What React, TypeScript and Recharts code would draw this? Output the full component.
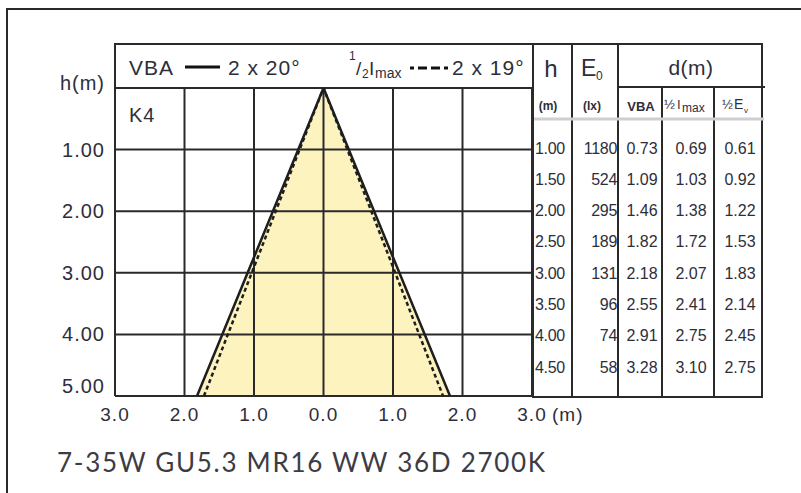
import React from "react";
import { ComposedChart, Line, Area, XAxis, YAxis, ReferenceLine } from "recharts";

// cone outline (half widths at h = 5 m)
const coneH = [5, 0, 5];
const vbaX = [-1.82, 0, 1.82];
const imaxX = [-1.72, 0, 1.72];

const xTicks = [-3, -2, -1, 0, 1, 2, 3];
const xLabels = ["3.0", "2.0", "1.0", "0.0", "1.0", "2.0", "3.0"];
const hTicks = [0, 1, 2, 3, 4, 5];
const hLabels = ["h(m)", "1.00", "2.00", "3.00", "4.00", "5.00"];

// table on the right
const tableH = ["1.00", "1.50", "2.00", "2.50", "3.00", "3.50", "4.00", "4.50"];
const tableE0 = ["1180", "524", "295", "189", "131", "96", "74", "58"];
const tableVBA = ["0.73", "1.09", "1.46", "1.82", "2.18", "2.55", "2.91", "3.28"];
const tableImax = ["0.69", "1.03", "1.38", "1.72", "2.07", "2.41", "2.75", "3.10"];
const tableEv = ["0.61", "0.92", "1.22", "1.53", "1.83", "2.14", "2.45", "2.75"];

const vbaData = vbaX.map((x, i) => ({ x, h: coneH[i] }));
const imaxData = imaxX.map((x, i) => ({ x, h: coneH[i] }));
const fillData = vbaX.map((x, i) => ({ x, band: [coneH[i], 5] }));

const FONT = "'Liberation Sans', Arial, sans-serif";
const INK = "#2e2e3a";
const LINE = "#2a2a2a";

const XTick = (props: any) => {
  const { x, y, index } = props;
  const last = index === xTicks.length - 1;
  return (
    <g>
      <text x={x} y={y + 10} textAnchor="middle" dominantBaseline="central" fontSize={19} letterSpacing={1} fill={INK} fontFamily={FONT}>
        {xLabels[index]}
      </text>
      {last && (
        <text x={x + 20} y={y + 10} textAnchor="start" dominantBaseline="central" fontSize={19} letterSpacing={1} fill={INK} fontFamily={FONT}>
          (m)
        </text>
      )}
    </g>
  );
};

const YTick = (props: any) => {
  const { x, y, index } = props;
  const shift = index === 0 ? -5 : index === hTicks.length - 1 ? -10 : 0;
  return (
    <text x={x - 2} y={y + shift} textAnchor="end" dominantBaseline="central" fontSize={20} letterSpacing={1} fill={INK} fontFamily={FONT}>
      {hLabels[index]}
    </text>
  );
};

const rowY = (i: number) => 148 + i * 31.3;

const Overlay = () => (
  <svg width={801} height={493} style={{ position: "absolute", left: 0, top: 0, pointerEvents: "none" }} fontFamily={FONT}>
    {/* outer frame */}
    <line x1={7} y1={9} x2={801} y2={9} stroke={LINE} strokeWidth={2} />
    <line x1={7} y1={8} x2={7} y2={493} stroke={LINE} strokeWidth={2} />

    {/* legend header box */}
    <line x1={115} y1={44} x2={763} y2={44} stroke={LINE} strokeWidth={2} />
    <line x1={115} y1={43} x2={115} y2={88} stroke={LINE} strokeWidth={2} />
    <text x={129} y={67} dominantBaseline="central" fontSize={21} letterSpacing={1} fill={INK}>VBA</text>
    <line x1={185} y1={67} x2={220} y2={67} stroke="#111" strokeWidth={3} />
    <text x={228} y={67} dominantBaseline="central" fontSize={21} letterSpacing={1} fill={INK}>2 x 20°</text>
    <text x={349} y={60} fontSize={12} fill={INK}>1</text>
    <text x={356} y={75} fontSize={19} fill={INK}>/</text>
    <text x={362} y={78} fontSize={12} fill={INK}>2</text>
    <text x={369} y={75} fontSize={19} fill={INK}>I</text>
    <text x={375} y={78} fontSize={14} fill={INK}>max</text>
    <line x1={410} y1={68} x2={450} y2={68} stroke="#111" strokeWidth={3} strokeDasharray="4 4 9 4 9" />
    <text x={452} y={67} dominantBaseline="central" fontSize={21} letterSpacing={1} fill={INK}>2 x 19°</text>
    <text x={129} y={115} dominantBaseline="central" fontSize={20} letterSpacing={1} fill={INK}>K4</text>

    {/* table grid */}
    {[533, 572, 618, 762].map((x) => (
      <line key={x} x1={x} y1={43} x2={x} y2={398} stroke={LINE} strokeWidth={2} />
    ))}
    {[662, 714].map((x) => (
      <line key={x} x1={x} y1={87} x2={x} y2={398} stroke={LINE} strokeWidth={2} />
    ))}
    <line x1={618} y1={87} x2={765} y2={87} stroke={LINE} strokeWidth={2} />
    <line x1={533} y1={397} x2={763} y2={397} stroke={LINE} strokeWidth={2} />
    <line x1={534} y1={119} x2={764} y2={119} stroke="#cfcfcf" strokeWidth={3} />

    {/* table header */}
    <text x={551} y={68} textAnchor="middle" dominantBaseline="central" fontSize={24} fill={INK}>h</text>
    <text x={581} y={68} dominantBaseline="central" fontSize={23} fill={INK}>E</text>
    <text x={596} y={80} fontSize={12} fill={INK}>0</text>
    <text x={691} y={67} textAnchor="middle" dominantBaseline="central" fontSize={21} letterSpacing={0.5} fill={INK}>d(m)</text>
    <text x={548} y={106} textAnchor="middle" dominantBaseline="central" fontSize={12} fontWeight="bold" fill={INK}>(m)</text>
    <text x={592} y={106} textAnchor="middle" dominantBaseline="central" fontSize={12} fontWeight="bold" fill={INK}>(lx)</text>
    <text x={641} y={106} textAnchor="middle" dominantBaseline="central" fontSize={13} fontWeight="bold" fill={INK}>VBA</text>
    <text x={664} y={109} fontSize={13} fill={INK}>½</text>
    <text x={677} y={109} fontSize={13} fill={INK}>I</text>
    <text x={682} y={112} fontSize={12} fill={INK}>max</text>
    <text x={722} y={109} fontSize={13} fill={INK}>½</text>
    <text x={734} y={109} fontSize={14} fill={INK}>E</text>
    <text x={744} y={113} fontSize={8} fill={INK}>v</text>

    {/* table rows */}
    {tableH.map((h, i) => (
      <g key={h} fontSize={16} fill={INK}>
        <text x={535} y={rowY(i)} dominantBaseline="central" letterSpacing={-0.3}>{h}</text>
        <text x={617} y={rowY(i)} textAnchor="end" dominantBaseline="central" letterSpacing={-0.3}>{tableE0[i]}</text>
        <text x={642} y={rowY(i)} textAnchor="middle" dominantBaseline="central">{tableVBA[i]}</text>
        <text x={691} y={rowY(i)} textAnchor="middle" dominantBaseline="central">{tableImax[i]}</text>
        <text x={740} y={rowY(i)} textAnchor="middle" dominantBaseline="central">{tableEv[i]}</text>
      </g>
    ))}

    {/* product line */}
    <text x={57} y={462} dominantBaseline="central" fontSize={26} textLength={488} lengthAdjust="spacing" fontFamily="Lato, 'Open Sans', sans-serif" fill="#3c3c44">
      7-35W GU5.3 MR16 WW 36D 2700K
    </text>
  </svg>
);

export default function App() {
  return (
    <div style={{ position: "absolute", left: 0, top: 0, width: 801, height: 493, background: "#fff" }}>
      <ComposedChart width={801} height={493} margin={{ top: 88, right: 269, bottom: 67, left: 0 }} style={{ position: "absolute", left: 0, top: 0 }}>
        <XAxis type="number" dataKey="x" domain={[-3, 3]} ticks={xTicks} interval={0} axisLine={false} tickLine={false} height={30} tick={<XTick />} allowDataOverflow />
        <YAxis type="number" domain={[0, 5]} ticks={hTicks} interval={0} reversed axisLine={false} tickLine={false} width={115} tick={<YTick />} allowDataOverflow />
        <Area data={fillData} dataKey="band" type="linear" stroke="none" fill="#fcf3bf" fillOpacity={1} isAnimationActive={false} />
        {xTicks.map((t) => (
          <ReferenceLine key={"x" + t} x={t} stroke={LINE} strokeWidth={2} />
        ))}
        {hTicks.map((t) => (
          <ReferenceLine key={"h" + t} y={t} stroke={LINE} strokeWidth={2} />
        ))}
        <Line data={imaxData} dataKey="h" type="linear" stroke="#1e1e1e" strokeWidth={2.5} strokeDasharray="4 3" dot={false} isAnimationActive={false} />
        <Line data={vbaData} dataKey="h" type="linear" stroke="#1e1e1e" strokeWidth={2.5} dot={false} isAnimationActive={false} />
      </ComposedChart>
      <Overlay />
    </div>
  );
}
